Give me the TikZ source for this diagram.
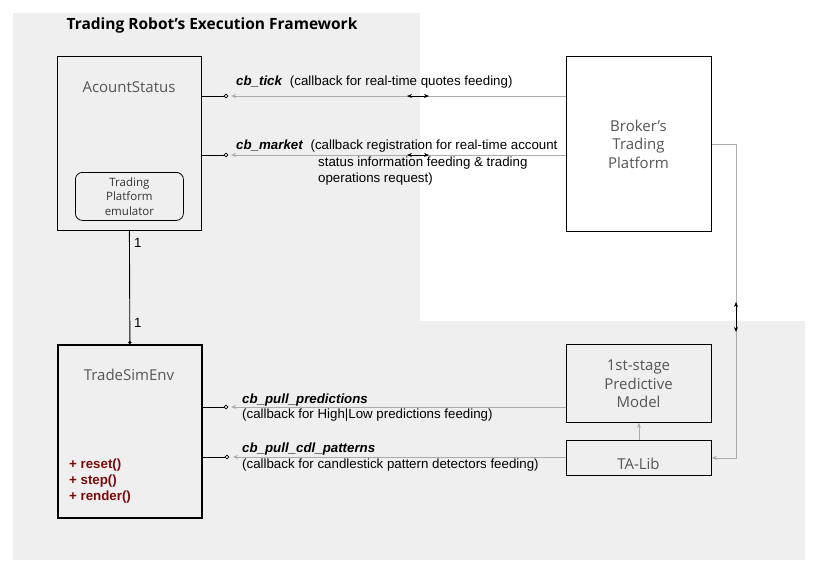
\documentclass[tikz,border=0pt]{standalone}
\usepackage{fontspec}
\setmainfont{Liberation Sans}
\newfontfamily\boxfont{Open Sans}
\usetikzlibrary{arrows.meta}
\definecolor{bg}{HTML}{EFEFEF}
\definecolor{lbl}{HTML}{555555}
\definecolor{emu}{HTML}{333333}
\definecolor{meth}{HTML}{7A0A0A}
\definecolor{conn}{HTML}{ABABAB}
\begin{document}
\begin{tikzpicture}[x=1pt,y=-1pt,
  box/.style={draw, line width=0.8pt, inner sep=0pt, anchor=north west},
  thickbox/.style={box, line width=1.8pt},
  boxtxt/.style={font=\boxfont\fontsize{15}{18.5}\selectfont, text=lbl, align=center, inner sep=0pt},
  txt/.style={font=\fontsize{13.3}{16}\selectfont, inner sep=0pt, anchor=west, align=left},
  blk/.style={draw, line width=0.8pt},
  garrow/.style={draw=conn, line width=0.8pt, -{Stealth[length=5pt,width=4pt]}},
  dbl/.style={draw, line width=0.8pt, {Stealth[length=5pt,width=4pt]}-{Stealth[length=5pt,width=4pt]}},
  port/.style={draw, fill=white, line width=0.7pt}
]
\useasboundingbox (0,0) rectangle (820,574);
\fill[bg] (13,13) -- (420,13) -- (420,321) -- (805,321) -- (805,560) -- (13,560) -- cycle;

% title
\node[font=\boxfont\bfseries\fontsize{15.5}{18}\selectfont, inner sep=0pt] (title) at (212,25) {Trading Robot’s Execution Framework};

% boxes
\node[box, minimum width=144, minimum height=174] (acct) at (57,56) {};
\node[boxtxt] (acctT) at (129,87) {AcountStatus};
\node[draw, line width=0.8pt, rounded corners=7pt, minimum width=108, minimum height=48, anchor=north west,
      inner sep=0pt, align=center, text=emu, font=\boxfont\fontsize{11.5}{14.5}\selectfont] (emul) at (75,172) {Trading\\Platform\\emulator};

\node[thickbox, minimum width=144, minimum height=173] (tsim) at (57,344) {};
\node[boxtxt] (tsimT) at (129,375) {TradeSimEnv};
\node[txt, text=meth, font=\bfseries\fontsize{13.3}{16}\selectfont] (meths) at (69,481) {+ reset()\\+ step()\\+ render()};

\node[box, minimum width=145, minimum height=175] (broker) at (566,56) {};
\node[boxtxt] (brokerT) at (638.5,144) {Broker’s\\Trading\\Platform};

\node[box, minimum width=145, minimum height=78] (pred) at (566,344) {};
\node[boxtxt] (predT) at (638.5,384) {1st-stage\\Predictive\\Model};

\node[box, minimum width=145, minimum height=35] (talib) at (566,440) {};
\node[boxtxt] (talibT) at (638.5,464) {TA-Lib};

% AcountStatus -- TradeSimEnv
\draw[line width=0.9pt, -{Circle[length=3pt]}] (acct.south) -- (tsim.north);
\node[txt] (one1) at (134,243) {1};
\node[txt] (one2) at (134,323) {1};

% cb_tick
\coordinate (p1) at (226,96);
\coordinate (t1) at (231,96);
\draw[blk] (acct.east |- p1) -- (p1);
\draw[garrow] (broker.west |- p1) -- (t1);
\draw[port] (p1) circle (1.8);
\coordinate (d1a) at (407,96);
\coordinate (d1b) at (429,96);
\draw[dbl] (d1a) -- (d1b);
\node[txt] (l1) at (236,82) {\textbf{\textit{cb\_tick}}\ \ (callback for real-time quotes feeding)};

% cb_market
\coordinate (p2) at (226,155);
\coordinate (t2) at (231,155);
\draw[blk] (acct.east |- p2) -- (p2);
\draw[garrow] (broker.west |- p2) -- (t2);
\draw[port] (p2) circle (1.8);
\coordinate (d2a) at (407,155);
\coordinate (d2b) at (429,155);
\draw[dbl] (d2a) -- (d2b);
\node[txt] (l2) at (236,146) {\textbf{\textit{cb\_market}}\ \ (callback registration for real-time account};
\node[txt] (l2b) at (318,171) {status information feeding \& trading\\operations request)};

% broker -> TA-Lib
\draw[garrow] (broker.east) -- ++(25,0) |- (talib.east);
\coordinate (d3a) at (736,302);
\coordinate (d3b) at (736,332);
\draw[dbl] (d3a) -- (d3b);

% TA-Lib -> predictive model
\draw[garrow] (talib.north) -- (pred.south);

% cb_pull_predictions
\coordinate (p3) at (226,407);
\coordinate (t3) at (231,407);
\draw[blk] (tsim.east |- p3) -- (p3);
\draw[garrow] (pred.west |- p3) -- (t3);
\draw[port] (p3) circle (1.8);
\node[txt, font=\fontsize{13.3}{15.5}\selectfont] (l3) at (242,407.5) {\textbf{\textit{cb\_pull\_predictions}}\\(callback for High|Low predictions feeding)};

% cb_pull_cdl_patterns
\coordinate (p4) at (227,457);
\coordinate (t4) at (233,457);
\draw[blk] (tsim.east |- p4) -- (p4);
\draw[garrow] (talib.west |- p4) -- (t4);
\draw[port] (p4) circle (1.8);
\node[txt, font=\fontsize{13.3}{15.5}\selectfont] (l4) at (242,457) {\textbf{\textit{cb\_pull\_cdl\_patterns}}\\(callback for candlestick pattern detectors feeding)};
\end{tikzpicture}
\end{document}
